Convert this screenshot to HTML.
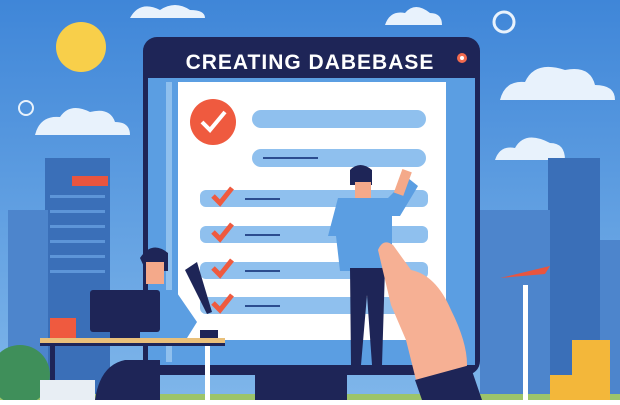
<!DOCTYPE html>
<html><head><style>body{margin:0;width:620px;height:400px;overflow:hidden}</style></head><body>
<svg width="620" height="400" viewBox="0 0 620 400" xmlns="http://www.w3.org/2000/svg">
<defs><linearGradient id="sky" x1="0" y1="0" x2="0" y2="1"><stop offset="0" stop-color="#3f86d8"/><stop offset="1" stop-color="#7fb6ea"/></linearGradient></defs>
<rect width="620" height="400" fill="url(#sky)"/>
<circle cx="81" cy="47" r="25" fill="#f8cf4a"/>
<path d="M35 135 q5-20 25-18 q10-15 30-5 q20-5 25 10 q15 0 15 13z" fill="#e8f2fc"/>
<path d="M500 100 q5-20 25-18 q10-22 40-12 q25-5 30 15 q20 0 20 15z" fill="#e8f2fc"/>
<path d="M385 25 q5-15 20-12 q10-12 25 0 q12 0 12 12z" fill="#e8f2fc"/>
<path d="M130 18 q10-18 30-8 q15-10 30 0 q15 0 15 8z" fill="#e8f2fc"/>
<path d="M495 160 q5-15 20-12 q10-18 35-5 q15 0 15 17z" fill="#e8f2fc"/>
<circle cx="504" cy="22" r="10" fill="none" stroke="#e8f2fc" stroke-width="3"/>
<circle cx="26" cy="108" r="7" fill="none" stroke="#e8f2fc" stroke-width="2"/>
<rect x="45" y="158" width="65" height="242" fill="#3a6fb8"/>
<rect x="72" y="176" width="36" height="10" fill="#e8553f"/>
<g fill="#5d95d8"><rect x="50" y="195" width="55" height="3"/><rect x="50" y="210" width="55" height="3"/><rect x="50" y="225" width="55" height="3"/><rect x="50" y="240" width="55" height="3"/><rect x="50" y="255" width="55" height="3"/><rect x="50" y="270" width="55" height="3"/></g>
<rect x="8" y="210" width="40" height="190" fill="#4d85cc"/>
<rect x="548" y="158" width="52" height="242" fill="#3a6fb8"/>
<rect x="480" y="210" width="70" height="190" fill="#4d85cc"/>
<rect x="600" y="240" width="20" height="160" fill="#4d85cc"/>
<rect x="0" y="394" width="620" height="6" fill="#9cc46a"/>
<!-- monitor -->
<rect x="255" y="370" width="92" height="30" fill="#1e2557"/>
<rect x="143" y="37" width="337" height="338" rx="14" fill="#1e2557"/>
<rect x="148" y="78" width="327" height="287" fill="#5b9ee2"/>
<rect x="178" y="82" width="268" height="258" fill="#ffffff"/>
<rect x="166" y="82" width="6" height="280" fill="#8fc0ee"/>
<text x="310" y="69" text-anchor="middle" font-family="Liberation Sans, sans-serif" font-weight="bold" font-size="21" fill="#ffffff" letter-spacing="1">CREATING DABEBASE</text>
<circle cx="462" cy="58" r="5" fill="#f26b4f"/><circle cx="462" cy="58" r="2" fill="#fff"/>
<circle cx="213" cy="122" r="23" fill="#ef5a3f"/>
<path d="M202 122 l8 8 l15 -18" stroke="#fff" stroke-width="4" fill="none"/>
<rect x="252" y="110" width="174" height="18" rx="9" fill="#8fc0ee"/>
<rect x="252" y="149" width="174" height="18" rx="9" fill="#8fc0ee"/>
<rect x="263" y="157" width="55" height="2" fill="#2b4c8f"/>
<g fill="#8fc0ee"><rect x="200" y="190" width="228" height="17" rx="6"/><rect x="200" y="226" width="228" height="17" rx="6"/><rect x="200" y="262" width="228" height="17" rx="6"/><rect x="200" y="297" width="228" height="17" rx="6"/></g>
<g fill="#2b4c8f"><rect x="245" y="198" width="35" height="2"/><rect x="245" y="234" width="35" height="2"/><rect x="245" y="270" width="35" height="2"/><rect x="245" y="305" width="35" height="2"/></g>
<g stroke="#ef5a3f" stroke-width="5" fill="none"><path d="M213 196 l7 7 l12 -15"/><path d="M213 232 l7 7 l12 -15"/><path d="M213 268 l7 7 l12 -15"/><path d="M213 303 l7 7 l12 -15"/></g>
<!-- standing man -->
<path d="M350 170 q10-10 22 0 l0 15 l-22 0z" fill="#1e2557"/>
<rect x="355" y="182" width="16" height="16" fill="#f4a98a"/>
<path d="M338 198 l50 0 l20-20 l10 8 l-18 30 l-8 0 l0 55 l-52 0 l-4 -35 l-8 0z" fill="#5b9ee2"/>
<rect x="398" y="170" width="10" height="25" fill="#f4a98a" transform="rotate(20 403 182)"/>
<path d="M350 268 l35 0 l-3 97 l-10 0 l-5 -70 l-6 70 l-10 0z" fill="#1e2557"/>
<!-- hand -->
<path d="M378 250 q5-12 15-5 l18 25 q25 5 40 40 q20 40 15 65 l-30 15 l-20 -10 l-10 -40 l-15 -35 z" fill="#f6b094"/>
<path d="M415 380 l55 -15 l12 35 l-60 0z" fill="#1e2557"/>
<!-- desk man -->
<rect x="40" y="338" width="185" height="7" fill="#e9c07a"/>
<rect x="40" y="343" width="185" height="3" fill="#1e2557"/>
<rect x="50" y="346" width="5" height="54" fill="#1e2557"/><rect x="205" y="346" width="5" height="54" fill="#fff"/>
<path d="M140 258 q12-18 28-5 l0 18 l-22 0z" fill="#1e2557"/>
<rect x="146" y="262" width="18" height="22" fill="#f4a98a"/>
<path d="M140 290 l35 0 l22 32 l-10 16 l-55 0z" fill="#5b9ee2"/>
<rect x="90" y="290" width="70" height="42" rx="3" fill="#1e2557"/>
<rect x="110" y="332" width="30" height="6" fill="#1e2557"/>
<path d="M95 400 q5-35 30-40 l35 0 l0 40z" fill="#1e2557"/>
<rect x="50" y="318" width="26" height="20" fill="#ef5a3f"/>
<path d="M185 270 l12 -8 l15 50 l-5 2z" fill="#1e2557"/><rect x="200" y="330" width="18" height="8" fill="#1e2557"/>
<g fill="#f3b73a"><rect x="572" y="340" width="38" height="60"/><rect x="550" y="375" width="30" height="25"/></g>
<ellipse cx="20" cy="375" rx="30" ry="30" fill="#3f8f5a"/>
<rect x="40" y="380" width="55" height="20" fill="#e8eef4"/>
<rect x="523" y="285" width="5" height="115" fill="#fff"/>
<path d="M500 278 l50 -12 l-5 8z" fill="#e8553f"/>
</svg>
</body></html>
